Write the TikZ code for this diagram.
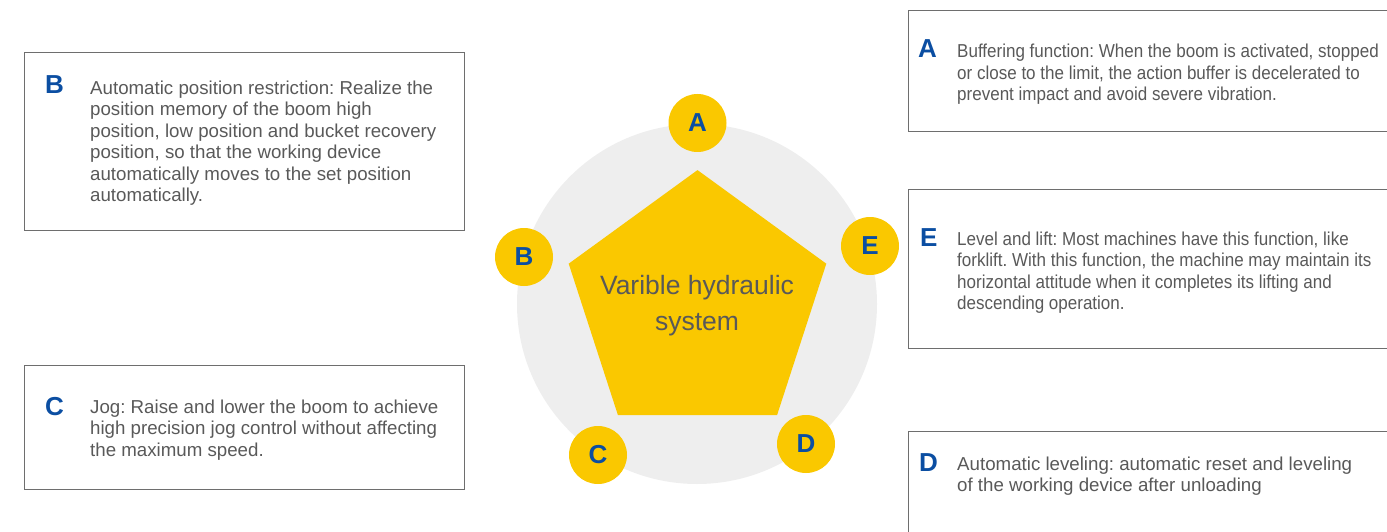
\documentclass[tikz,border=0pt]{standalone}
\usepackage{fontspec}
\setmainfont{Liberation Sans}
\newfontfamily\narrowfont[FakeStretch=0.91]{Liberation Sans}
\frenchspacing
\definecolor{hyellow}{HTML}{FAC800}
\definecolor{hblue}{HTML}{0B4EA2}
\definecolor{hgray}{HTML}{EEEEEE}
\definecolor{htext}{HTML}{595959}
\definecolor{hborder}{HTML}{6E6E6E}
\begin{document}
\begin{tikzpicture}[x=1pt,y=-1pt,
  box/.style={draw=hborder, line width=0.9pt},
  letter/.style={anchor=base west, inner sep=0pt, text=hblue, font=\bfseries\fontsize{26}{28}\selectfont},
  body/.style={anchor=base west, inner sep=0pt, align=left, text=htext, font=\frenchspacing\fontsize{18.7}{21.5}\selectfont},
  narrowbody/.style={body, font=\narrowfont\frenchspacing\fontsize{18.7}{21.5}\selectfont},
  dot/.style={circle, fill=hyellow, minimum size=58pt, inner sep=0pt, text=hblue, font=\bfseries\fontsize{26}{28}\selectfont},
  center/.style={anchor=base, inner sep=0pt, text=htext, font=\fontsize{26.5}{36}\selectfont}]
\useasboundingbox (0,0) rectangle (1387,532);
\clip (0,0) rectangle (1387,532);
% central graphic
\fill[hgray] (697,304) circle (180pt);
\fill[hyellow] (697.5,170.1) -- (826.3,263.7) -- (777.1,415.0) -- (617.9,415.0) -- (568.7,263.7) -- cycle;
\node[center] (t1) at (697,294) {Varible hydraulic};
\node[center] (t2) at (697,330) {system};
\node[dot] (cA) at (697.5,123) {A};
\node[dot] (cB) at (524,257) {B};
\node[dot] (cE) at (870,246) {E};
\node[dot] (cC) at (598,455) {C};
\node[dot] (cD) at (806,444) {D};
% boxes
\draw[box] (24,52) rectangle (464.5,230.5);
\draw[box] (24,365.5) rectangle (464.5,489.5);
\draw[box] (908.5,10.5) rectangle (1400,131.5);
\draw[box] (908.5,189) rectangle (1400,348);
\draw[box] (908.5,431) rectangle (1400,560);
% box B (6 lines, anchor = last baseline)
\node[letter] (lB) at (45,94) {B};
\node[body] (xB) at (90,201.5) {Automatic position restriction: Realize the\\position memory of the boom high\\position, low position and bucket recovery\\position, so that the working device\\automatically moves to the set position\\automatically.};
% box C (3 lines)
\node[letter] (lC) at (45,415) {C};
\node[body] (xC) at (90,456) {Jog: Raise and lower the boom to achieve\\high precision jog control without affecting\\the maximum speed.};
% box A (3 lines)
\node[letter] (lA) at (918,58) {A};
\node[narrowbody] (xA) at (957,101) {Buffering function: When the boom is activated, stopped\\or close to the limit, the action buffer is decelerated to\\prevent impact and avoid severe vibration.};
% box E (4 lines)
\node[letter] (lE) at (920,246) {E};
\node[narrowbody] (xE) at (957,309.5) {Level and lift: Most machines have this function, like\\forklift. With this function, the machine may maintain its\\horizontal attitude when it completes its lifting and\\descending operation.};
% box D (2 lines)
\node[letter] (lD) at (919,471) {D};
\node[body] (xD) at (957,491.5) {Automatic leveling: automatic reset and leveling\\of the working device after unloading};
\end{tikzpicture}
\end{document}
